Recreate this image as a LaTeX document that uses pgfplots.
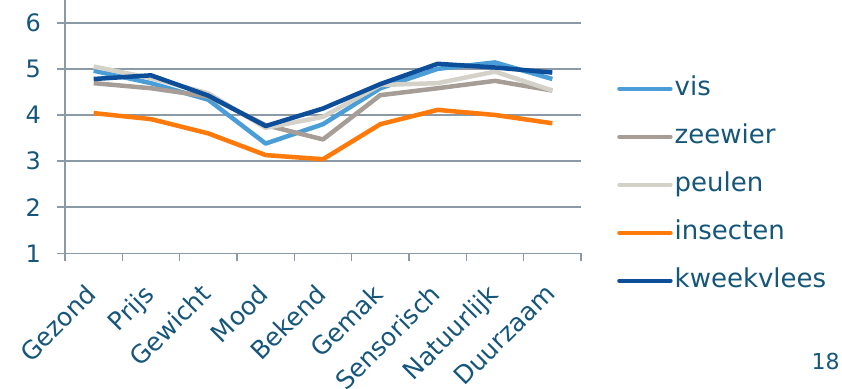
\documentclass[border=0pt]{standalone}
\usepackage{fontspec}
\setmainfont{DejaVu Sans}
\usepackage{pgfplots}
\usepackage{pgfplotstable}
\pgfplotsset{compat=1.18}

\definecolor{txt}{RGB}{21,86,122}
\definecolor{gridc}{RGB}{140,154,168}
\definecolor{cvis}{RGB}{74,157,215}
\definecolor{czeewier}{RGB}{165,157,150}
\definecolor{cpeulen}{RGB}{212,209,200}
\definecolor{cinsecten}{RGB}{255,122,10}
\definecolor{ckweekvlees}{RGB}{12,78,154}

% mean scores per attribute (categories centred at 0.5, 1.5, ...)
\pgfplotstableread{
x   vis  zeewier peulen insecten kweekvlees
0.5 4.96 4.69    5.05   4.04     4.78
1.5 4.69 4.58    4.80   3.91     4.86
2.5 4.33 4.40    4.47   3.60     4.42
3.5 3.38 3.78    3.72   3.13     3.76
4.5 3.80 3.47    3.96   3.04     4.14
5.5 4.58 4.43    4.65   3.80     4.67
6.5 5.00 4.58    4.69   4.11     5.11
7.5 5.14 4.74    4.94   4.00     5.03
8.5 4.78 4.53    4.53   3.82     4.92
}\scores

\begin{document}
\begin{tikzpicture}[x=1pt,y=1pt]
\useasboundingbox (-65,-134.7) rectangle (777,253.3);
\clip (-65,-134.7) rectangle (777,253.3);
\begin{axis}[
  at={(0,0)}, anchor=south west,
  scale only axis, width=516pt, height=253.6pt,
  xmin=0, xmax=9, ymin=1, ymax=6.5,
  axis lines*=left,
  axis line style={draw=gridc, line width=1.5pt},
  xtick={0,...,9},
  xticklabels={Gezond,Prijs,Gewicht,Mood,Bekend,Gemak,Sensorisch,Natuurlijk,Duurzaam},
  x tick label as interval,
  ytick={1,...,6},
  ymajorgrids,
  grid style={draw=gridc, line width=1.5pt},
  tick align=outside, major tick length=8pt,
  tick style={draw=gridc, line width=1.5pt},
  /pgf/number format/assume math mode=true,
  tick label style={text=txt, font=\fontsize{24}{28}\selectfont},
  xticklabel style={xshift=-9pt, yshift=-21pt, rotate=45, anchor=north east, inner sep=0pt,
    font=\fontsize{25}{29}\selectfont},
  yticklabel style={anchor=east, inner sep=0pt, xshift=-16pt},
  legend style={at={(1.0698,0.27)}, anchor=west, draw=none, fill=none,
    inner sep=0pt, font=\fontsize{26}{30}\selectfont, text=txt,
    row sep=23pt,
    nodes={inner xsep=2pt, inner ysep=0pt, text height=19pt, text depth=6pt}},
  legend cell align=left,
  legend image code/.code={\draw[#1, line width=4.5pt, line cap=round] (0pt,0pt) -- (51pt,0pt);},
  every axis plot/.append style={line width=4.5pt, line join=round, no markers},
]
\addplot[cvis] table[x=x, y=vis] {\scores};
\addlegendentry{vis}
\addplot[czeewier] table[x=x, y=zeewier] {\scores};
\addlegendentry{zeewier}
\addplot[cpeulen] table[x=x, y=peulen] {\scores};
\addlegendentry{peulen}
\addplot[cinsecten] table[x=x, y=insecten] {\scores};
\addlegendentry{insecten}
\addplot[ckweekvlees] table[x=x, y=kweekvlees] {\scores};
\addlegendentry{kweekvlees}
\end{axis}
\node[text=txt, font=\fontsize{22}{26}\selectfont, inner sep=0pt] at (760.5,-107.7) {18};
\end{tikzpicture}
\end{document}
